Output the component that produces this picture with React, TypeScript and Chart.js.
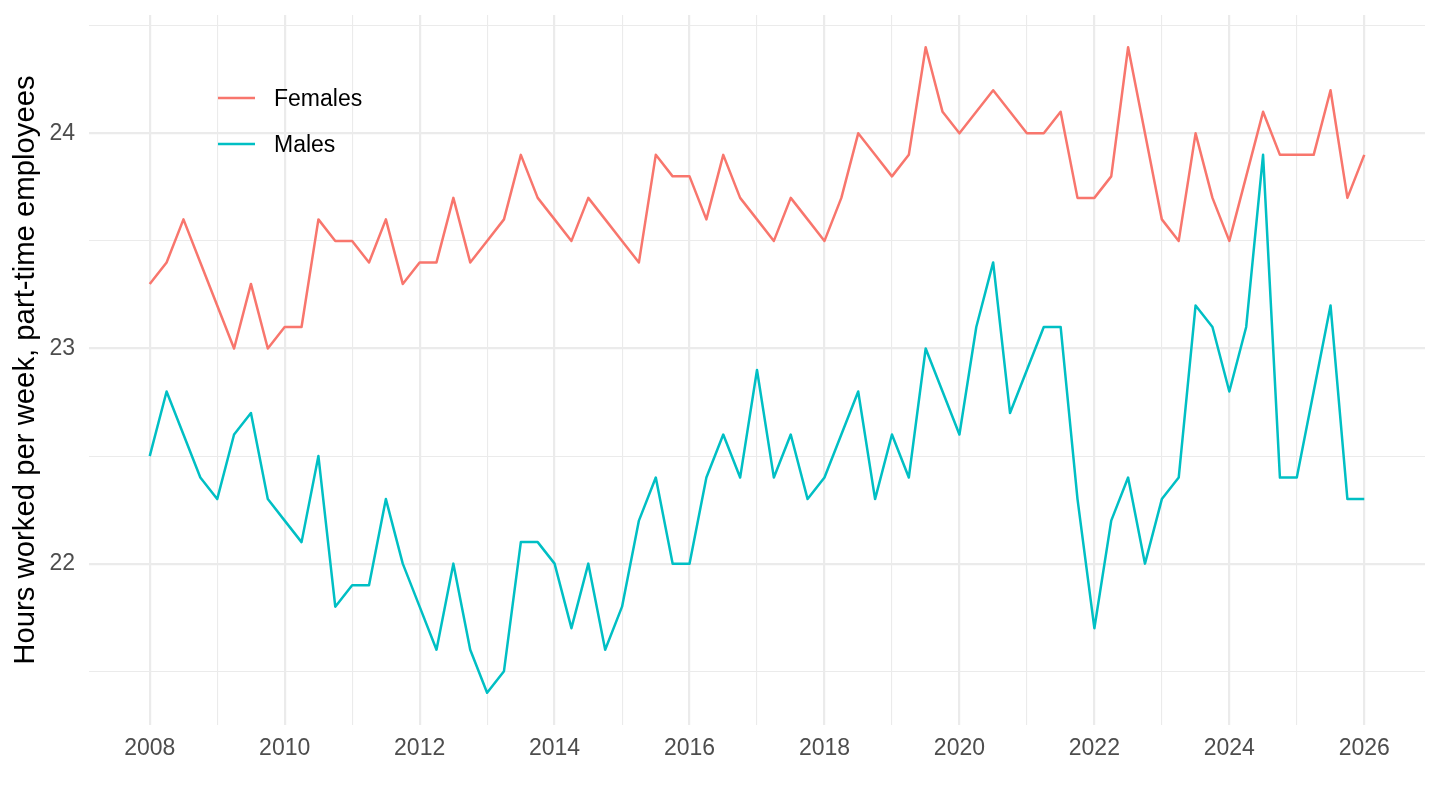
import React, { useEffect, useRef } from 'react';
import { Chart, registerables } from 'chart.js';

Chart.register(...registerables);

// quarterly observations, 2008 Q1 .. 2026 Q1
const QUARTERS = [
  '2008-Q1', '2008-Q2', '2008-Q3', '2008-Q4',
  '2009-Q1', '2009-Q2', '2009-Q3', '2009-Q4',
  '2010-Q1', '2010-Q2', '2010-Q3', '2010-Q4',
  '2011-Q1', '2011-Q2', '2011-Q3', '2011-Q4',
  '2012-Q1', '2012-Q2', '2012-Q3', '2012-Q4',
  '2013-Q1', '2013-Q2', '2013-Q3', '2013-Q4',
  '2014-Q1', '2014-Q2', '2014-Q3', '2014-Q4',
  '2015-Q1', '2015-Q2', '2015-Q3', '2015-Q4',
  '2016-Q1', '2016-Q2', '2016-Q3', '2016-Q4',
  '2017-Q1', '2017-Q2', '2017-Q3', '2017-Q4',
  '2018-Q1', '2018-Q2', '2018-Q3', '2018-Q4',
  '2019-Q1', '2019-Q2', '2019-Q3', '2019-Q4',
  '2020-Q1', '2020-Q2', '2020-Q3', '2020-Q4',
  '2021-Q1', '2021-Q2', '2021-Q3', '2021-Q4',
  '2022-Q1', '2022-Q2', '2022-Q3', '2022-Q4',
  '2023-Q1', '2023-Q2', '2023-Q3', '2023-Q4',
  '2024-Q1', '2024-Q2', '2024-Q3', '2024-Q4',
  '2025-Q1', '2025-Q2', '2025-Q3', '2025-Q4',
  '2026-Q1',
];

const FEMALES = [
  23.3, 23.4, 23.6, 23.4,
  23.2, 23.0, 23.3, 23.0,
  23.1, 23.1, 23.6, 23.5,
  23.5, 23.4, 23.6, 23.3,
  23.4, 23.4, 23.7, 23.4,
  23.5, 23.6, 23.9, 23.7,
  23.6, 23.5, 23.7, 23.6,
  23.5, 23.4, 23.9, 23.8,
  23.8, 23.6, 23.9, 23.7,
  23.6, 23.5, 23.7, 23.6,
  23.5, 23.7, 24.0, 23.9,
  23.8, 23.9, 24.4, 24.1,
  24.0, 24.1, 24.2, 24.1,
  24.0, 24.0, 24.1, 23.7,
  23.7, 23.8, 24.4, 24.0,
  23.6, 23.5, 24.0, 23.7,
  23.5, 23.8, 24.1, 23.9,
  23.9, 23.9, 24.2, 23.7,
  23.9,
];

const MALES = [
  22.5, 22.8, 22.6, 22.4,
  22.3, 22.6, 22.7, 22.3,
  22.2, 22.1, 22.5, 21.8,
  21.9, 21.9, 22.3, 22.0,
  21.8, 21.6, 22.0, 21.6,
  21.4, 21.5, 22.1, 22.1,
  22.0, 21.7, 22.0, 21.6,
  21.8, 22.2, 22.4, 22.0,
  22.0, 22.4, 22.6, 22.4,
  22.9, 22.4, 22.6, 22.3,
  22.4, 22.6, 22.8, 22.3,
  22.6, 22.4, 23.0, 22.8,
  22.6, 23.1, 23.4, 22.7,
  22.9, 23.1, 23.1, 22.3,
  21.7, 22.2, 22.4, 22.0,
  22.3, 22.4, 23.2, 23.1,
  22.8, 23.1, 23.9, 22.4,
  22.4, 22.8, 23.2, 22.3,
  22.3,
];

const X_TICKS = [
  2008, 2009, 2010, 2011, 2012, 2013, 2014, 2015, 2016, 2017,
  2018, 2019, 2020, 2021, 2022, 2023, 2024, 2025, 2026,
];
const Y_TICKS = [21.5, 22, 22.5, 23, 23.5, 24, 24.5];
const X_MIN = 2007.1;
const X_MAX = 2026.9;
const Y_MIN = 21.25;
const Y_MAX = 24.55;

const FONT = '"Liberation Sans", Arial, Helvetica, sans-serif';
const GRID = '#EBEBEB';

const quarterToYear = (q: string) => Number(q.slice(0, 4)) + (Number(q.slice(6)) - 1) / 4;

// ggplot-style legend placed inside the panel, top-left
const insideLegend = {
  id: 'insideLegend',
  afterDraw(chart: any) {
    const { ctx, chartArea } = chart;
    ctx.save();
    chart.data.datasets.forEach((ds: any, i: number) => {
      const y = chartArea.top + 83 + i * 46;
      ctx.strokeStyle = ds.borderColor;
      ctx.lineWidth = 2.6;
      ctx.beginPath();
      ctx.moveTo(chartArea.left + 129, y);
      ctx.lineTo(chartArea.left + 166, y);
      ctx.stroke();
      ctx.fillStyle = '#000000';
      ctx.font = `23px ${FONT}`;
      ctx.textBaseline = 'middle';
      ctx.textAlign = 'left';
      ctx.fillText(ds.label, chartArea.left + 185, y + 1.5);
    });
    ctx.restore();
  },
};

const HoursChart: React.FC = () => {
  const canvasRef = useRef<HTMLCanvasElement>(null);
  const chartRef = useRef<Chart | null>(null);

  useEffect(() => {
    if (!canvasRef.current) return;
    if (chartRef.current) chartRef.current.destroy();

    const xs = QUARTERS.map(quarterToYear);

    chartRef.current = new Chart(canvasRef.current, {
      type: 'line',
      data: {
        datasets: [
          {
            label: 'Females',
            data: xs.map((x, i) => ({ x, y: FEMALES[i] })),
            borderColor: '#F8766D',
            backgroundColor: '#F8766D',
            borderWidth: 2.5,
            borderJoinStyle: 'round',
            pointRadius: 0,
            tension: 0,
          },
          {
            label: 'Males',
            data: xs.map((x, i) => ({ x, y: MALES[i] })),
            borderColor: '#00BFC4',
            backgroundColor: '#00BFC4',
            borderWidth: 2.5,
            borderJoinStyle: 'round',
            pointRadius: 0,
            tension: 0,
          },
        ],
      },
      options: {
        responsive: true,
        maintainAspectRatio: false,
        animation: false,
        layout: { padding: { left: 0, right: 15, top: 15, bottom: 0 } },
        plugins: {
          legend: { display: false },
          tooltip: { enabled: false },
        },
        scales: {
          x: {
            type: 'linear',
            min: X_MIN,
            max: X_MAX,
            afterBuildTicks: (scale: any) => {
              scale.ticks = X_TICKS.map((v) => ({ value: v }));
            },
            afterFit: (scale: any) => {
              scale.height = 85;
              scale.paddingLeft = 0;
              scale.paddingRight = 0;
            },
            border: { display: false },
            grid: {
              color: GRID,
              drawTicks: false,
              lineWidth: (ctx: any) => (ctx.tick && ctx.tick.value % 2 === 0 ? 2.2 : 1.1),
            },
            ticks: {
              padding: 10,
              color: '#4D4D4D',
              font: { family: FONT, size: 23 },
              maxRotation: 0,
              autoSkip: false,
              callback: (v: any) => (Number(v) % 2 === 0 ? String(v) : ''),
            },
          },
          y: {
            type: 'linear',
            min: Y_MIN,
            max: Y_MAX,
            afterBuildTicks: (scale: any) => {
              scale.ticks = Y_TICKS.map((v) => ({ value: v }));
            },
            afterFit: (scale: any) => {
              scale.width = 89;
              scale.paddingTop = 0;
              scale.paddingBottom = 0;
            },
            border: { display: false },
            grid: {
              color: GRID,
              drawTicks: false,
              lineWidth: (ctx: any) => (ctx.tick && Number.isInteger(ctx.tick.value) ? 2.2 : 1.1),
            },
            ticks: {
              padding: 14,
              color: '#4D4D4D',
              font: { family: FONT, size: 23 },
              callback: (v: any) => (Number.isInteger(Number(v)) ? String(v) : ''),
            },
            title: {
              display: true,
              text: 'Hours worked per week, part-time employees',
              color: '#000000',
              font: { family: FONT, size: 29.3 },
              padding: { top: 8, bottom: 0 },
            },
          },
        },
      },
      plugins: [insideLegend],
    });

    return () => {
      if (chartRef.current) {
        chartRef.current.destroy();
        chartRef.current = null;
      }
    };
  }, []);

  return (
    <div
      style={{
        position: 'fixed',
        left: 0,
        top: 0,
        width: 1440,
        height: 810,
        background: '#ffffff',
      }}
    >
      <canvas ref={canvasRef} />
    </div>
  );
};

export default function App() {
  return <HoursChart />;
}
